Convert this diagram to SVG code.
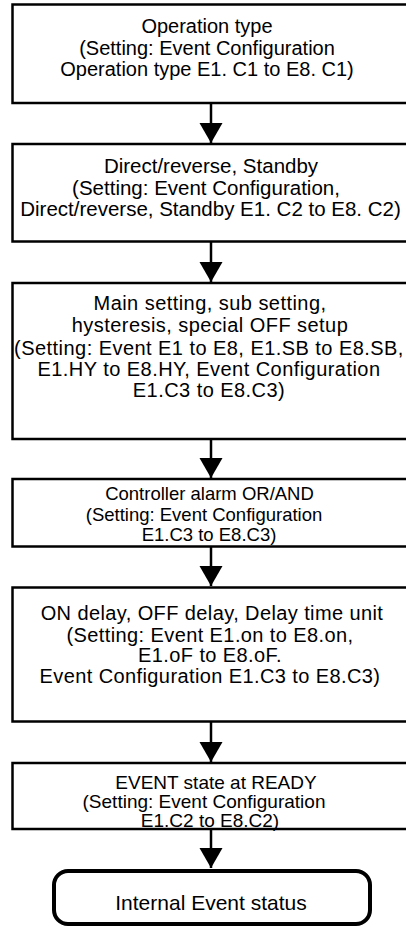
<svg xmlns="http://www.w3.org/2000/svg" width="406" height="928" viewBox="0 0 406 928">
<style>
.box{fill:#fff;stroke:#000;stroke-width:2.5}
.term{fill:#fff;stroke:#000;stroke-width:4}
text{font-family:"Liberation Sans",Arial,sans-serif;fill:#000;text-anchor:middle}
.conn line{stroke:#000;stroke-width:2.5}
</style>
<defs>
<marker id="ah" markerUnits="userSpaceOnUse" markerWidth="22" markerHeight="24" viewBox="0 -12 20 24" refX="20" refY="0" orient="auto">
<path d="M0,-11.5 L20,0 L0,11.5 Z" fill="#000"/>
</marker>
</defs>
<rect width="406" height="928" fill="#fff"/>
<g id="n1">
<rect class="box" x="12.5" y="4.5" width="398" height="98.5"/>
<text font-size="20"><tspan x="207" y="33">Operation type</tspan><tspan x="207" y="54.5">(Setting: Event Configuration</tspan><tspan x="207" y="76">Operation type E1. C1 to E8. C1)</tspan></text>
</g>
<g id="n2">
<rect class="box" x="12.5" y="144" width="398" height="97.5"/>
<text font-size="20.5"><tspan x="211" y="173">Direct/reverse, Standby</tspan><tspan x="206" y="194.5">(Setting: Event Configuration,</tspan><tspan x="210.5" y="216">Direct/reverse, Standby E1. C2 to E8. C2)</tspan></text>
</g>
<g id="n3">
<rect class="box" x="12.5" y="283" width="398" height="156"/>
<text font-size="20" letter-spacing="0.45"><tspan x="210" y="310">Main setting, sub setting,</tspan><tspan x="210" y="331.5">hysteresis, special OFF setup</tspan><tspan x="209" y="355">(Setting: Event E1 to E8, E1.SB to E8.SB,</tspan><tspan x="209" y="376">E1.HY to E8.HY, Event Configuration</tspan><tspan x="209" y="396.5">E1.C3 to E8.C3)</tspan></text>
</g>
<g id="n4">
<rect class="box" x="12.5" y="479" width="398" height="67.5"/>
<text font-size="18.5"><tspan x="209.5" y="500">Controller alarm OR/AND</tspan><tspan x="204" y="520.5">(Setting: Event Configuration</tspan><tspan x="209" y="541">E1.C3 to E8.C3)</tspan></text>
</g>
<g id="n5">
<rect class="box" x="12.5" y="587.5" width="398" height="134"/>
<text font-size="20" letter-spacing="0.4"><tspan x="212" y="620">ON delay, OFF delay, Delay time unit</tspan><tspan x="210" y="641.5">(Setting: Event E1.on to E8.on,</tspan><tspan x="210" y="662">E1.oF to E8.oF.</tspan><tspan x="210" y="683">Event Configuration E1.C3 to E8.C3)</tspan></text>
</g>
<g id="n6">
<rect class="box" x="12.5" y="763" width="398" height="66"/>
<text font-size="19"><tspan x="216" y="788.5">EVENT state at READY</tspan><tspan x="204" y="807.5">(Setting: Event Configuration</tspan><tspan x="210" y="826.5">E1.C2 to E8.C2)</tspan></text>
</g>
<g id="n7">
<rect class="term" x="54" y="871" width="316" height="53" rx="14"/>
<text font-size="21" x="211" y="910">Internal Event status</text>
</g>
<g class="conn" id="connectors">
<line x1="211" y1="103" x2="211" y2="143" marker-end="url(#ah)"/>
<line x1="211" y1="241.5" x2="211" y2="282" marker-end="url(#ah)"/>
<line x1="211" y1="439" x2="211" y2="478" marker-end="url(#ah)"/>
<line x1="211" y1="546.5" x2="211" y2="586" marker-end="url(#ah)"/>
<line x1="211" y1="721.5" x2="211" y2="762" marker-end="url(#ah)"/>
<line x1="211" y1="829" x2="211" y2="868" marker-end="url(#ah)"/>
</g>
</svg>
